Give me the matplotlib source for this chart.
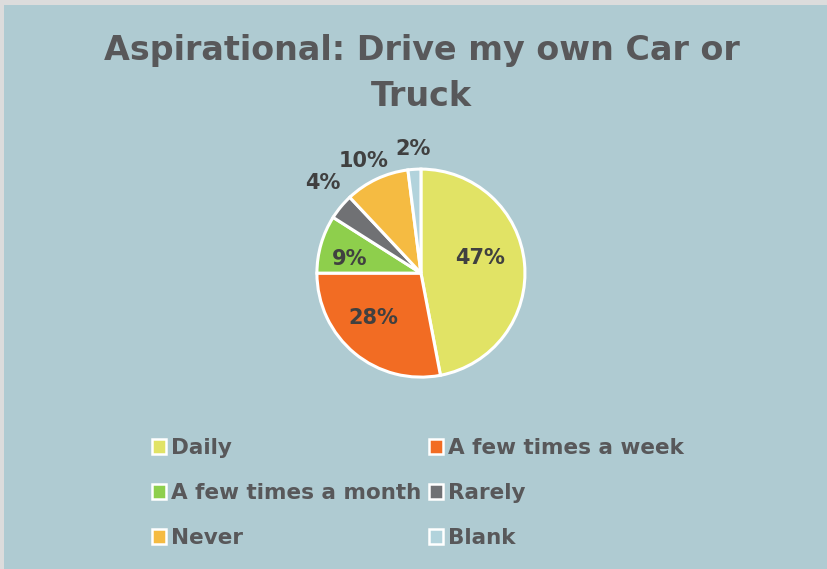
import numpy as np
import matplotlib.pyplot as plt
from matplotlib.patches import Patch, Rectangle

categories = ["Daily", "A few times a week", "A few times a month", "Rarely", "Never", "Blank"]
percents = [47, 28, 9, 4, 10, 2]
colors = ["#e1e365", "#f26c23", "#8ecf4c", "#707174", "#f5bb42", "#b2d3dc"]

bg = "#afcbd2"
txt = "#58585a"
font = "DejaVu Sans"

fig = plt.figure(figsize=(8.27, 5.69), dpi=100)
fig.patch.set_facecolor("#dcdcdc")
# chart area inside the thin gray frame
fig.patches.append(Rectangle((4 / 827, 0), 1, 1 - 5 / 569, transform=fig.transFigure,
                             facecolor=bg, edgecolor="none", zorder=-5))

fig.text(0.51, 0.911, "Aspirational: Drive my own Car or", ha="center", va="center",
         fontsize=24, fontweight="bold", color=txt, family=font)
fig.text(0.51, 0.831, "Truck", ha="center", va="center",
         fontsize=24, fontweight="bold", color=txt, family=font)

ax = fig.add_axes([0.509 - 0.1258, 0.520 - 0.1828, 0.2516, 0.3656])
ax.set_facecolor("none")
wedges, _ = ax.pie(percents, colors=colors, startangle=90, counterclock=False,
                   wedgeprops=dict(edgecolor="white", linewidth=2.2))
ax.set_xlim(-1.0, 1.0)
ax.set_ylim(-1.0, 1.0)
ax.set_aspect("equal")

# label distance from centre for each slice (small slices sit outside)
label_r = [0.59, 0.63, 0.7, 1.28, 1.21, 1.2]
label_shift = [9, -7, 5, -3, 2, 0]
for w, p, r, s in zip(wedges, percents, label_r, label_shift):
    ang = np.deg2rad((w.theta1 + w.theta2) / 2 + s)
    ax.text(r * np.cos(ang), r * np.sin(ang), f"{p}%", ha="center", va="center",
            fontsize=15, fontweight="bold", color="#404040", family=font, clip_on=False)

handles = [Patch(facecolor=c, edgecolor="white", linewidth=1.8, label=l)
           for c, l in zip(colors, categories)]
order = [0, 2, 4, 1, 3, 5]
leg = fig.legend([handles[i] for i in order], [categories[i] for i in order],
                 loc="upper left", bbox_to_anchor=(0.160, 0.264), ncol=2, frameon=False,
                 handlelength=0.65, handleheight=0.65, handletextpad=0.25,
                 columnspacing=0.35, labelspacing=1.16,
                 prop=dict(family=font, weight="bold", size=15.5))
for t in leg.get_texts():
    t.set_color(txt)

fig.savefig("out.png", dpi=100, facecolor=fig.get_facecolor())
